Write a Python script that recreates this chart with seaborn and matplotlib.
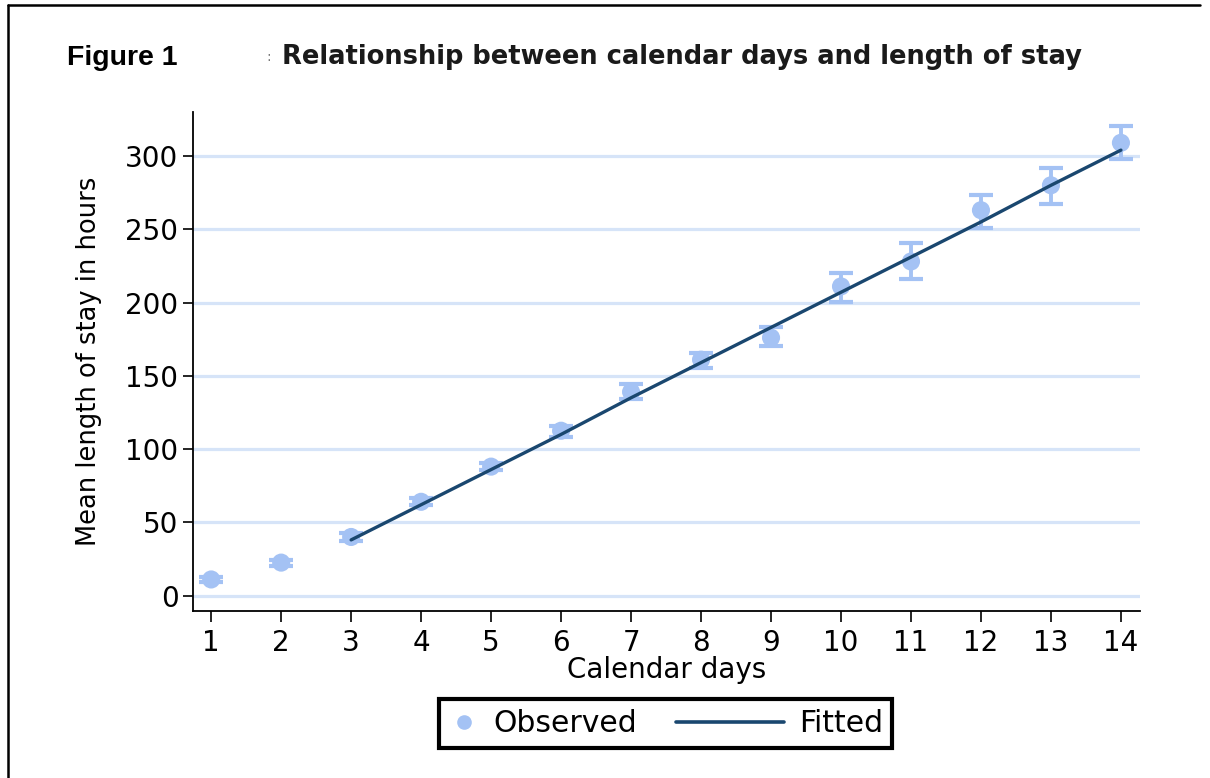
import matplotlib
matplotlib.use("Agg")
import matplotlib.pyplot as plt
from matplotlib.lines import Line2D
from matplotlib.legend_handler import HandlerLine2D
import pandas as pd
import seaborn as sns

# observed means with 95% CI
days = [1, 2, 3, 4, 5, 6, 7, 8, 9, 10, 11, 12, 13, 14]
mean_los = [11, 22.5, 40, 64, 88, 112.5, 139, 161, 176, 211, 228, 263, 280, 309]
ci_low = [9, 20.5, 37.5, 61.5, 85.5, 108, 134, 155.5, 170, 200.5, 216, 251, 267, 298]
ci_high = [13, 24.5, 42.5, 66.5, 90.5, 116, 144.5, 165.5, 183.5, 220, 240.5, 273.5, 292, 320.5]

# fitted line (days 3-14)
fit_days = [3, 4, 5, 6, 7, 8, 9, 10, 11, 12, 13, 14]
fit_los = [38, 62, 86, 110, 135, 159, 183, 207, 231, 255, 280, 304]

obs_col = "#a4c2f4"
fit_col = "#1a476f"
grid_col = "#d6e4f8"


class LongLineHandler(HandlerLine2D):
    # line that reaches left past the (short) handle box
    def create_artists(self, legend, orig_handle, xdescent, ydescent,
                       width, height, fontsize, trans):
        y = height / 2 - ydescent
        x1 = width - xdescent
        line = Line2D([x1 - 3.6 * fontsize, x1], [y, y], color=fit_col, lw=2.6)
        line.set_transform(trans)
        return [line]


sns.set_theme(style="white")
plt.rcParams['font.family'] = ['DejaVu Sans']

obs = pd.DataFrame({"day": days, "los": mean_los})
fit = pd.DataFrame({"day": fit_days, "los": fit_los})

fig = plt.figure(figsize=(12.1, 7.78), dpi=100)
ax = fig.add_axes([0.1595, 0.2147, 0.7825, 0.6413])

for t in [0, 50, 100, 150, 200, 250, 300]:
    ax.axhline(t, color=grid_col, lw=2.3, zorder=0)

yerr = [[m - l for m, l in zip(mean_los, ci_low)],
        [h - m for m, h in zip(mean_los, ci_high)]]
ax.errorbar(days, mean_los, yerr=yerr, fmt="none", ecolor=obs_col,
            elinewidth=2.8, capsize=8.5, capthick=3, zorder=2)
sns.scatterplot(data=obs, x="day", y="los", ax=ax, color=obs_col, s=170,
                edgecolor="none", zorder=3, legend=False)
sns.lineplot(data=fit, x="day", y="los", ax=ax, color=fit_col, lw=2.4,
             zorder=4, legend=False)

ax.set_xlim(0.74, 14.27)
ax.set_ylim(-10.5, 330)
ax.set_xticks(days)
ax.set_yticks([0, 50, 100, 150, 200, 250, 300])
ax.tick_params(axis="both", direction="out", width=1.2, color="black",
               labelsize=20, labelcolor="black", bottom=True, left=True)
ax.tick_params(axis="x", length=8, pad=5)
ax.tick_params(axis="y", length=7, pad=3.5)
for s in ["top", "right"]:
    ax.spines[s].set_visible(False)
for s in ["left", "bottom"]:
    ax.spines[s].set_color("black")
    ax.spines[s].set_linewidth(1.3)

ax.set_xlabel("Calendar days", fontsize=20, color="black", labelpad=-1)
ax.set_ylabel("Mean length of stay in hours", fontsize=18.5, color="black",
              labelpad=17)

handles = [Line2D([], [], marker="o", ls="none", color=obs_col, markersize=9.5),
           Line2D([], [], color=fit_col, lw=2.6)]
leg = fig.legend(handles, ["Observed", "Fitted"], loc="center",
                 bbox_to_anchor=(0.5504, 0.07), ncol=2, fontsize=21.5,
                 frameon=True, fancybox=False, framealpha=1,
                 columnspacing=3.9, handlelength=1.0, handletextpad=0.5,
                 borderpad=0.32, borderaxespad=0,
                 handler_map={handles[1]: LongLineHandler()})
leg.get_frame().set_edgecolor("black")
leg.get_frame().set_linewidth(3)
for txt in leg.get_texts():
    txt.set_color("black")

fig.text(0.055, 0.925, "Figure 1", fontsize=20.5, fontweight="bold",
         color="black", va="center",
         family=["Liberation Sans Narrow", "Liberation Sans"])
fig.text(0.220, 0.927, ":", fontsize=10, color="#777777", va="center")
fig.text(0.233, 0.927, "Relationship between calendar days and length of stay",
         fontsize=18.5, fontweight="bold", color="#1a1a1a", va="center")

# outer frame (left and top edges)
fig.add_artist(Line2D([0.0066, 0.0066], [0.0, 0.9936], color="black", lw=1.8,
                      transform=fig.transFigure))
fig.add_artist(Line2D([0.0066, 0.992], [0.9936, 0.9936], color="black", lw=1.8,
                      transform=fig.transFigure))

fig.savefig("out.png", dpi=100)
